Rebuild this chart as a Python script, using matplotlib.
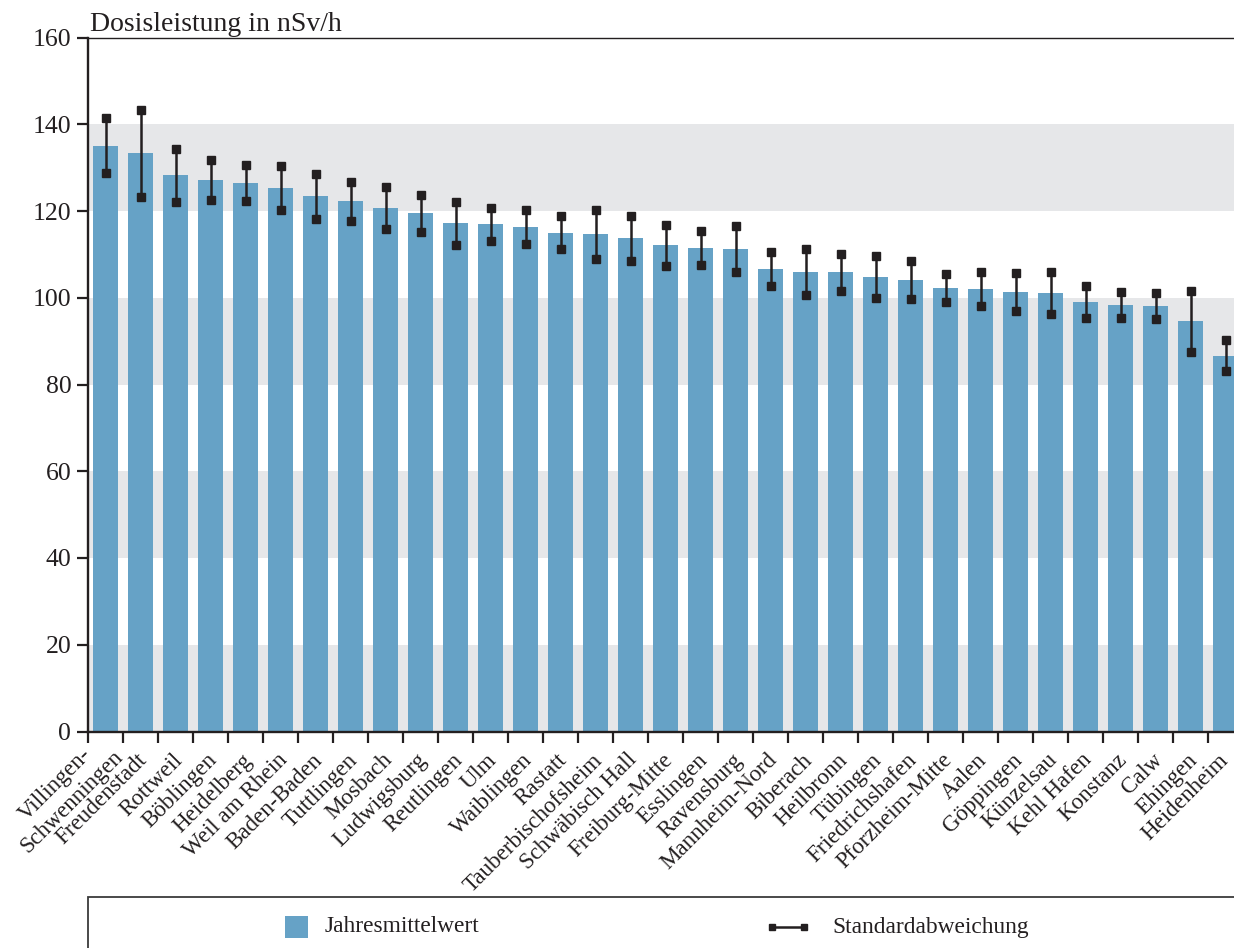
import matplotlib
matplotlib.use("Agg")
import matplotlib.pyplot as plt
from matplotlib.patches import Rectangle
from matplotlib.lines import Line2D
from matplotlib.transforms import ScaledTranslation
import numpy as np

stations = ["Villingen-\nSchwenningen", "Freudenstadt", "Rottweil", "Böblingen", "Heidelberg",
            "Weil am Rhein", "Baden-Baden", "Tuttlingen", "Mosbach", "Ludwigsburg",
            "Reutlingen", "Ulm", "Waiblingen", "Rastatt", "Tauberbischofsheim",
            "Schwäbisch Hall", "Freiburg-Mitte", "Esslingen", "Ravensburg", "Mannheim-Nord",
            "Biberach", "Heilbronn", "Tübingen", "Friedrichshafen", "Pforzheim-Mitte",
            "Aalen", "Göppingen", "Künzelsau", "Kehl Hafen", "Konstanz",
            "Calw", "Ehingen", "Heidenheim"]
mean_values = [135.0, 133.3, 128.2, 127.1, 126.4, 125.3, 123.4, 122.3, 120.7, 119.5,
               117.2, 116.9, 116.3, 115.0, 114.6, 113.7, 112.1, 111.4, 111.2, 106.6,
               105.9, 105.9, 104.8, 104.1, 102.2, 102.0, 101.3, 101.1, 99.0, 98.3,
               98.1, 94.6, 86.6]
std_values = [6.35, 10.0, 6.2, 4.65, 4.1, 5.05, 5.15, 4.5, 4.8, 4.3,
              4.95, 3.8, 3.9, 3.85, 5.6, 5.15, 4.7, 3.9, 5.3, 4.0,
              5.3, 4.3, 4.85, 4.45, 3.25, 4.0, 4.4, 4.75, 3.7, 3.0,
              3.1, 7.0, 3.55]
y_ticks = [0, 20, 40, 60, 80, 100, 120, 140, 160]
band_ranges = [(0, 20), (40, 60), (80, 100), (120, 140)]

title_text = "Dosisleistung in nSv/h"
legend_bar = "Jahresmittelwert"
legend_err = "Standardabweichung"

BAR_COLOR = "#66a2c6"
BAND_COLOR = "#e6e7e9"
DARK = "#231f20"
FONT = "Liberation Serif"

plt.rcParams["font.family"] = [FONT, "DejaVu Serif"]

W, H = 1234, 948
fig = plt.figure(figsize=(W / 100, H / 100), dpi=100)

# axes geometry (pixels)
ax_left, ax_right, ax_top, ax_bottom = 88, 88 + 35 * 33, 37.5, 731.5
ax = fig.add_axes([ax_left / W, 1 - ax_bottom / H, (ax_right - ax_left) / W, (ax_bottom - ax_top) / H])

x = np.arange(len(stations))
mean = np.array(mean_values)
sd = np.array(std_values)

for lo, hi in band_ranges:
    ax.axhspan(lo, hi, color=BAND_COLOR, lw=0, zorder=0)

ax.bar(x, mean, width=0.686, color=BAR_COLOR, zorder=2)
ax.errorbar(x, mean, yerr=sd, fmt="none", ecolor=DARK, elinewidth=1.8, capsize=0, zorder=3)
ax.plot(x, mean + sd, "s", color=DARK, markersize=5.2, zorder=4, linestyle="none")
ax.plot(x, mean - sd, "s", color=DARK, markersize=5.2, zorder=4, linestyle="none")

ax.set_xlim(-0.5, len(stations) - 0.5)
ax.set_ylim(0, 160)
ax.set_yticks(y_ticks)
ax.set_yticklabels([str(v) for v in y_ticks], fontsize=18.5, color=DARK)
ax.tick_params(axis="y", direction="out", length=8, width=1.6, color=DARK, pad=4)

LABEL_FS = 16.6
ax.set_xticks(x)
ax.set_xticklabels(stations, rotation=45, ha="right", va="center", rotation_mode="anchor",
                   fontsize=LABEL_FS, color=DARK, multialignment="center")
ax.tick_params(axis="x", which="major", length=0, pad=14)
ax.set_xticks(np.arange(-0.5, len(stations) + 0.5, 1), minor=True)
ax.tick_params(axis="x", which="minor", direction="out", length=8, width=1.6, color=DARK)

# small offsets of the rotated labels (inches); the two-line label is moved up by half a line
labels = ax.get_xticklabels()
for i, lbl in enumerate(labels):
    if "\n" in lbl.get_text():
        off = ScaledTranslation(0.06, 0.058, fig.dpi_scale_trans)
    elif i == len(labels) - 1:
        off = ScaledTranslation(0.0, -0.06, fig.dpi_scale_trans)
    else:
        off = ScaledTranslation(0.035, -0.06, fig.dpi_scale_trans)
    lbl.set_transform(lbl.get_transform() + off)

for s in ["left", "bottom"]:
    ax.spines[s].set_linewidth(1.7)
    ax.spines[s].set_color(DARK)
ax.spines["top"].set_linewidth(1.0)
ax.spines["top"].set_color(DARK)
ax.spines["right"].set_visible(False)
ax.set_facecolor("white")

fig.text(90 / W, 1 - 31 / H, title_text, fontsize=20, color=DARK, ha="left", va="baseline")

# legend box
fig.add_artist(Rectangle((88 / W, -0.05), 1.2, (1 - 897 / H) + 0.05, transform=fig.transFigure,
                         fill=False, edgecolor="#3a3a3a", lw=1.3))
fig.add_artist(Rectangle((285 / W, 1 - 938 / H), 23 / W, 22 / H, transform=fig.transFigure,
                         facecolor=BAR_COLOR, edgecolor="none"))
fig.text(325 / W, 1 - 927 / H, legend_bar, fontsize=16.8, color=DARK, ha="left", va="center")
fig.add_artist(Line2D([772 / W, 804 / W], [1 - 927 / H, 1 - 927 / H], transform=fig.transFigure,
                      color=DARK, lw=1.8, marker="s", markersize=4.4))
fig.text(832 / W, 1 - 927 / H, legend_err, fontsize=16.8, color=DARK, ha="left", va="center")

fig.savefig("out.png", dpi=100)
